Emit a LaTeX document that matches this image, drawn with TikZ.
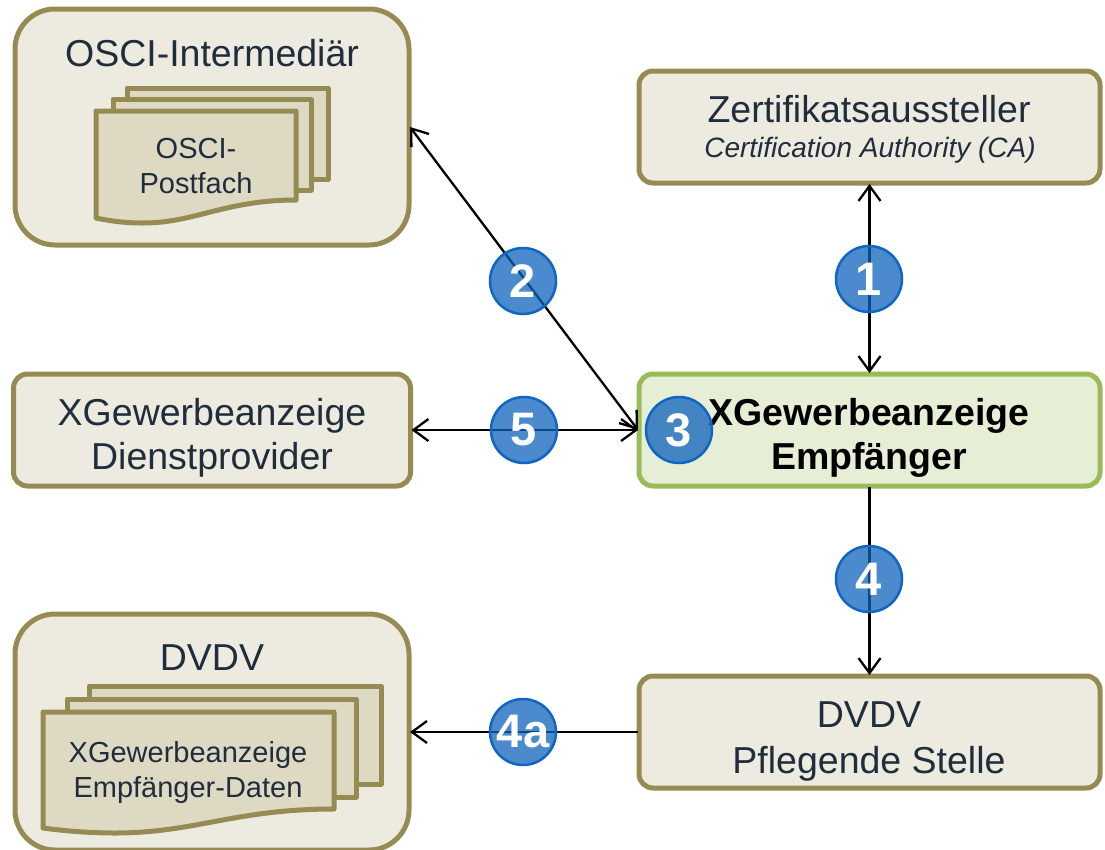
\documentclass[tikz,border=0pt]{standalone}
\usepackage{fontspec}
\setmainfont{Liberation Sans}
\usetikzlibrary{arrows.meta}
\definecolor{boxline}{HTML}{968C53}
\definecolor{boxfill}{HTML}{EDEBE0}
\definecolor{docfill}{HTML}{DDD9C3}
\definecolor{grnline}{HTML}{9BBB59}
\definecolor{grnfill}{HTML}{E6EED6}
\definecolor{txt}{HTML}{1F2D3D}
\definecolor{numfill}{HTML}{0D63BC}
\definecolor{numline}{HTML}{0F66C4}
\newcommand{\fsz}[1]{\fontsize{#1}{#1}\selectfont}
\tikzset{
 panel/.style={draw=boxline,fill=boxfill,line width=5pt,rounded corners=#1,inner sep=0pt,outer sep=1pt,text=txt,align=center},
 panel/.default=14pt,
 docpage/.style={draw=boxline,fill=docfill,line width=5pt,line join=round},
 link/.style={black,line width=2.3pt,{Straight Barb[length=15pt,width=22pt]}-{Straight Barb[length=15pt,width=22pt]}},
 linkend/.style={black,line width=2.3pt,-{Straight Barb[length=15pt,width=22pt]}},
 num/.style={circle,draw=numline,fill=numfill,fill opacity=0.75,text opacity=1,line width=2.5pt,minimum size=66pt,inner sep=0pt,text=white,font=\fsz{47}\bfseries},
 lab/.style={text=txt,align=center,inner sep=0pt}
}
\begin{document}
\begin{tikzpicture}[x=1pt,y=-1pt]
\useasboundingbox (0,0) rectangle (1105,849);
\clip (0,0) rectangle (1105,849);
\node[panel=40pt,minimum width=394pt,minimum height=236pt] (osci) at (212,127) {};
\node[panel,minimum width=461pt,minimum height=112pt] (ca) at (869.5,127) {};
\node[panel,minimum width=397pt,minimum height=112pt] (dienst) at (212,430) {};
\node[draw=grnline,fill=grnfill,line width=5pt,rounded corners=14pt,inner sep=0pt,outer sep=1pt,minimum width=461pt,minimum height=112pt] (empf) at (869.5,430) {};
\node[panel,minimum width=461pt,minimum height=112pt] (stelle) at (869.5,732) {};
\node[panel=40pt,minimum width=394pt,minimum height=236pt] (dvdv) at (212,732) {};
% stacked pages
\draw[docpage] (127,88) -- (328,88) -- (328,179) -- (127,179) -- cycle;
\draw[docpage] (113,99) -- (311,99) -- (311,190) -- (113,190) -- cycle;
\draw[docpage] (96,111) -- (296,111) -- (296,200) .. controls (225,200) and (195,223) .. (143,223) .. controls (125,223) and (110,221) .. (96,218) -- cycle;
\draw[docpage] (89,686) -- (381,686) -- (381,784) -- (89,784) -- cycle;
\draw[docpage] (67,699) -- (356,699) -- (356,797) -- (67,797) -- cycle;
\draw[docpage] (43,712) -- (334,712) -- (334,809) .. controls (235,809) and (195,833) .. (115,833) .. controls (90,833) and (65,831) .. (43,828) -- cycle;
% texts
\node[lab,font=\fsz{37.5}] (t1) at (212,53.5) {OSCI-Intermediär};
\node[lab,font=\fsz{29}] (t2) at (196,166) {OSCI-\\[6pt]Postfach};
\node[lab,font=\fsz{37.5}] (t3) at (869,109) {Zertifikatsaussteller};
\node[lab,font=\fsz{28}\itshape] (t4) at (870,150) {Certification Authority (CA)};
\node[lab,font=\fsz{37.5}] (t5) at (212,438) {XGewerbeanzeige\\[7pt]Dienstprovider};
\node[lab,text=black,font=\fsz{37.5}\bfseries] (t6) at (869,438) {XGewerbeanzeige\\[7pt]Empfänger};
\node[lab,font=\fsz{37.5}] (t7) at (869,741.5) {DVDV\\[8pt]Pflegende Stelle};
\node[lab,font=\fsz{37.5}] (t8) at (212,658) {DVDV};
\node[lab,font=\fsz{29}] (t9) at (188,772.5) {XGewerbeanzeige\\[6pt]Empfänger-Daten};
% connectors
\draw[link] (osci.east) -- (empf.west);
\draw[link] (ca.south) -- (empf.north);
\draw[link] (dienst.east) -- (empf.west);
\draw[linkend] (empf.south) -- (stelle.north);
\draw[linkend] (stelle.west) -- (dvdv.east);
% numbers
\node[num] (n1) at (869,279) {1};
\node[num] (n2) at (523,281) {2};
\node[num] (n3) at (679,430) {3};
\node[num] (n4) at (869,579) {4};
\node[num] (n5) at (524,430) {5};
\node[num] (n4a) at (523,732) {4a};
\end{tikzpicture}
\end{document}
